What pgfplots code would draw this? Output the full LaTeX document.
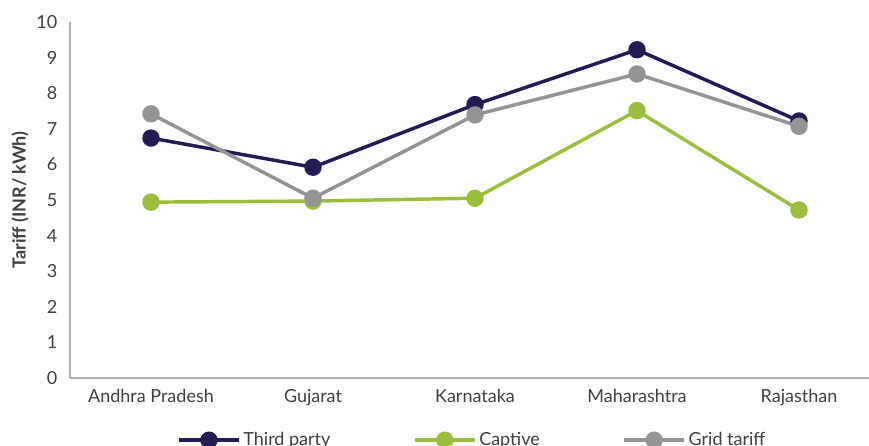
\documentclass[border=0pt]{standalone}
\usepackage{fontspec}
\setmainfont{Lato}
\usepackage{pgfplots}
\pgfplotsset{compat=1.18}

\definecolor{navy}{RGB}{32,28,84}
\definecolor{lime}{RGB}{155,190,60}
\definecolor{midgray}{RGB}{148,148,150}
\definecolor{axisgray}{RGB}{175,175,175}
\definecolor{labelgray}{RGB}{64,64,64}

\begin{document}
\begin{tikzpicture}[x=0.75pt,y=0.75pt]
\begin{axis}[
  at={(0,0)}, anchor=south west,
  scale only axis,
  width=599.25pt, height=267pt,
  xmin=-0.5, xmax=4.432,
  ymin=0, ymax=10,
  ytick={0,1,...,10},
  xtick={0,1,2,3,4},
  xticklabels={Andhra Pradesh,Gujarat,Karnataka,Maharashtra,Rajasthan},
  axis x line*=bottom, axis y line*=left,
  axis line style={axisgray, line width=1.3pt, -},
  major tick length=0pt,
  tick style={draw=none},
  /pgf/number format/assume math mode=true,
  ticklabel style={font=\fontsize{13.5}{16}\selectfont, text=labelgray},
  yticklabel style={xshift=-6pt},
  xticklabel style={yshift=-5pt},
  ylabel={\textbf{Tariff (INR/ kWh)}},
  every axis y label/.style={at={(axis description cs:-0.0626,0.5)}, rotate=90,
    anchor=center,
    font=\fontsize{13.5}{16}\selectfont, text=labelgray},
  clip=false,
  legend style={
    at={(0.504,-0.145)}, anchor=north, draw=none, fill=none,
    legend columns=3,
    font=\fontsize{13.5}{16}\selectfont, text=labelgray,
    /tikz/every even column/.append style={column sep=60pt},
    inner sep=0pt,
  },
  legend cell align=left,
  legend image code/.code={
    \draw[#1, mark=none] (0pt,0pt) -- (45pt,0pt);
    \draw[#1, only marks] plot coordinates {(22.5pt,0pt)};
  },
]
\addplot[navy, line width=2.6pt, mark=*, mark size=5.2pt, mark options={solid}]
  coordinates {(0,6.74) (1,5.92) (2,7.68) (3,9.22) (4,7.22)};
\addlegendentry{Third party}
\addplot[lime, line width=2.6pt, mark=*, mark size=5.2pt, mark options={solid}]
  coordinates {(0,4.94) (1,4.97) (2,5.05) (3,7.51) (4,4.72)};
\addlegendentry{Captive}
\addplot[midgray, line width=2.6pt, mark=*, mark size=5.2pt, mark options={solid}]
  coordinates {(0,7.42) (1,5.05) (2,7.39) (3,8.54) (4,7.07)};
\addlegendentry{Grid tariff}
\end{axis}
\pgfresetboundingbox
\path[use as bounding box] (-70,-68) rectangle (799,378);
\end{tikzpicture}
\end{document}
